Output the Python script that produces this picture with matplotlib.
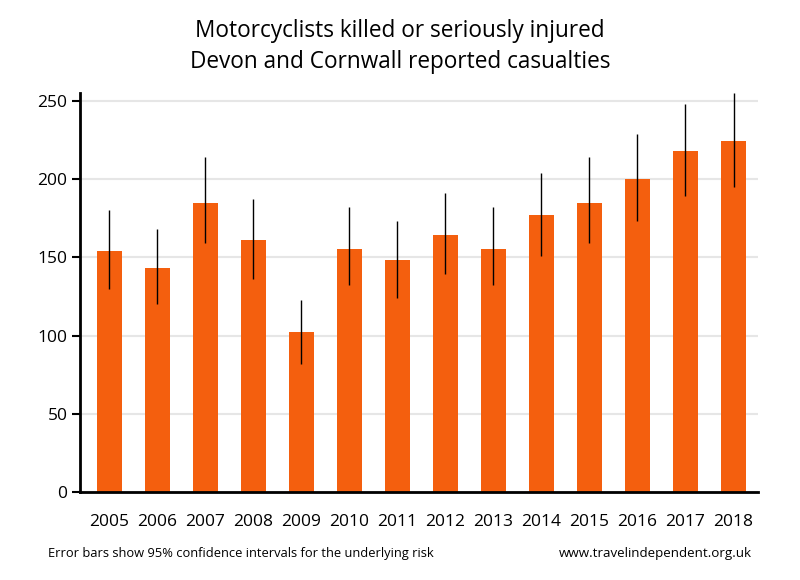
import matplotlib
matplotlib.use("Agg")
import matplotlib.pyplot as plt
import numpy as np

plt.rcParams["font.family"] = ["Open Sans", "DejaVu Sans"]

years = ["2005", "2006", "2007", "2008", "2009", "2010", "2011",
         "2012", "2013", "2014", "2015", "2016", "2017", "2018"]
casualties = [154, 143, 185, 161, 102, 155, 148, 164, 155, 177, 185, 200, 218, 224]
ci_low = [130, 120, 159, 136, 82, 132, 124, 139, 132, 151, 159, 173, 189, 195]
ci_high = [180, 168, 214, 187, 123, 182, 173, 191, 182, 204, 214, 229, 248, 255]

bar_color = "#F45F0E"

x = np.arange(len(years))
vals = np.array(casualties)
yerr = np.array([vals - np.array(ci_low), np.array(ci_high) - vals])

fig = plt.figure(figsize=(8, 5.8), dpi=100)
ax = fig.add_axes([0.1, 0.1517, 0.8475, 0.688])

ax.bar(x, vals, width=0.52, color=bar_color, zorder=2)
ax.errorbar(x, vals, yerr=yerr, fmt="none", ecolor="black", elinewidth=1.0,
            capsize=0, zorder=3)

ax.set_xlim(-0.61, 13.51)
ax.set_ylim(0, 255)
ax.set_yticks([0, 50, 100, 150, 200, 250])
ax.yaxis.grid(True, color="#e6e6e6", linewidth=1.5, zorder=0)
ax.set_axisbelow(True)

ax.set_xticks(x)
ax.set_xticklabels(years)
ax.tick_params(axis="x", length=0, pad=16, labelsize=12.5)
ax.tick_params(axis="y", length=6, width=1.5, pad=3, labelsize=12.5)

for side in ("top", "right"):
    ax.spines[side].set_visible(False)
ax.spines["left"].set_linewidth(2)
ax.spines["bottom"].set_linewidth(2)

fig.text(0.5, 0.946, "Motorcyclists killed or seriously injured",
         ha="center", va="center", fontsize=16.3)
fig.text(0.5, 0.893, "Devon and Cornwall reported casualties",
         ha="center", va="center", fontsize=16.3)

fig.text(0.06, 0.046, "Error bars show 95% confidence intervals for the underlying risk",
         ha="left", va="center", fontsize=9.3)
fig.text(0.94, 0.046, "www.travelindependent.org.uk",
         ha="right", va="center", fontsize=9.6)

fig.savefig("out.png", dpi=100)
